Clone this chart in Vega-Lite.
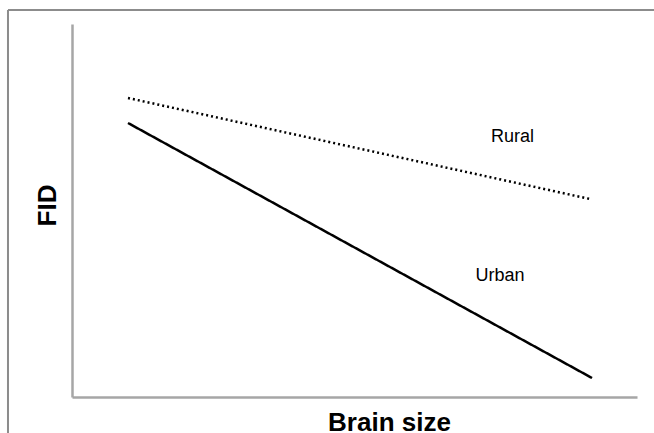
{
  "$schema": "https://vega.github.io/schema/vega-lite/v6.json",
  "width": 565,
  "height": 373,
  "autosize": {"type": "none"},
  "padding": {"left": 72, "top": 24, "right": 17, "bottom": 36},
  "background": "white",
  "config": {
    "view": {"stroke": null},
    "font": "Liberation Sans",
    "axis": {"labels": false, "ticks": false, "grid": false, "domainColor": "#a6a6a6", "domainWidth": 2.5,
      "titleFont": "Liberation Sans", "titleFontSize": 26, "titleFontWeight": "bold", "titleColor": "black"},
    "axisX": {"titleX": 317, "titleY": 33, "titleBaseline": "alphabetic", "titleAlign": "center"},
    "axisY": {"titleX": -17, "titleY": 181, "titleBaseline": "alphabetic", "titleAlign": "center", "titleAngle": -90}
  },
  "datasets": {
    "lines": [
      {"series": "Rural", "brain": 0.991, "fid": 8.016},
      {"series": "Rural", "brain": 9.168, "fid": 5.308},
      {"series": "Urban", "brain": 0.991, "fid": 7.346},
      {"series": "Urban", "brain": 9.204, "fid": 0.509}
    ],
    "labels": [
      {"label": "Rural", "brain": 7.796, "fid": 6.971},
      {"label": "Urban", "brain": 7.575, "fid": 3.257}
    ],
    "frame": [
      {"x1": -1.133, "x2": 10.301, "y1": 10.375, "y2": 10.375},
      {"x1": -1.133, "x2": -1.133, "y1": 10.375, "y2": -0.965}
    ]
  },
  "encoding": {
    "x": {"type": "quantitative", "scale": {"domain": [0, 10]}, "title": "Brain size"},
    "y": {"type": "quantitative", "scale": {"domain": [0, 10]}, "title": "FID"}
  },
  "layer": [
    {
      "data": {"name": "frame"},
      "mark": {"type": "rule", "color": "#8c8c8c", "strokeWidth": 2},
      "encoding": {
        "x": {"field": "x1", "type": "quantitative", "title": "Brain size"},
        "x2": {"field": "x2"},
        "y": {"field": "y1", "type": "quantitative", "title": "FID"},
        "y2": {"field": "y2"}
      }
    },
    {
      "data": {"name": "lines"},
      "mark": {"type": "line", "color": "black", "strokeWidth": 2.5},
      "encoding": {
        "x": {"field": "brain", "type": "quantitative", "title": "Brain size"},
        "y": {"field": "fid", "type": "quantitative", "title": "FID"},
        "detail": {"field": "series"},
        "strokeDash": {"field": "series", "type": "nominal",
          "scale": {"domain": ["Rural", "Urban"], "range": [[2, 3], [1, 0]]}, "legend": null}
      }
    },
    {
      "data": {"name": "labels"},
      "mark": {"type": "text", "font": "Liberation Sans", "fontSize": 18, "color": "black", "align": "center", "baseline": "middle"},
      "encoding": {
        "x": {"field": "brain", "type": "quantitative", "title": "Brain size"},
        "y": {"field": "fid", "type": "quantitative", "title": "FID"},
        "text": {"field": "label"}
      }
    }
  ]
}
